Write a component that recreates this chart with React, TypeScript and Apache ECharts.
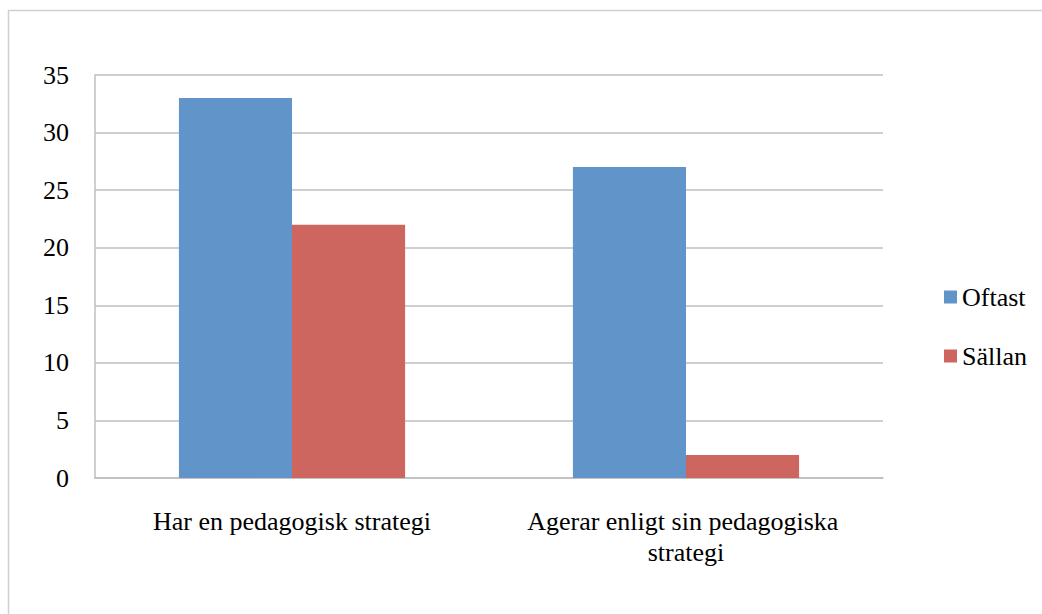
import React, { useEffect, useRef } from "react";
import * as echarts from "echarts";

const categories = ["Har en pedagogisk strategi", "Agerar enligt sin pedagogiska strategi"];
const seriesNames = ["Oftast", "Sällan"];
const oftastValues = [33, 27];
const sallanValues = [22, 2];
const yTicks = [0, 5, 10, 15, 20, 25, 30, 35];

const FONT = "Liberation Serif";

export default function App() {
  const ref = useRef<HTMLDivElement>(null);
  useEffect(() => {
    document.body.style.margin = "0";
    const chart = echarts.init(ref.current!, null, { renderer: "svg" });
    chart.setOption({
      animation: false,
      backgroundColor: "#ffffff",
      textStyle: { fontFamily: FONT, color: "#000" },
      graphic: [
        {
          type: "rect",
          shape: { x: 8.5, y: 10.5, width: 1100, height: 700 },
          style: { fill: "none", stroke: "#d0d0d0", lineWidth: 1.5 },
          silent: true,
        },
      ],
      grid: { left: 95, right: 159, top: 75, bottom: 136, containLabel: false },
      legend: {
        orient: "vertical",
        left: 939,
        top: 279,
        itemWidth: 13,
        itemHeight: 13,
        itemGap: 33,
        icon: "rect",
        textStyle: { fontFamily: FONT, fontSize: 26, color: "#000" },
        data: seriesNames,
      },
      xAxis: {
        type: "category",
        data: categories,
        axisLine: { show: true, lineStyle: { color: "#bfbfbf", width: 1.5 } },
        axisTick: { show: false },
        axisLabel: {
          interval: 0,
          margin: 28,
          fontFamily: FONT,
          fontSize: 26,
          color: "#000",
          width: 340,
          overflow: "break",
          lineHeight: 31,
        },
      },
      yAxis: {
        type: "value",
        min: yTicks[0],
        max: yTicks[yTicks.length - 1],
        interval: 5,
        axisLine: { show: true, lineStyle: { color: "#bfbfbf", width: 1.5 } },
        axisTick: { show: false },
        axisLabel: { margin: 26, fontFamily: FONT, fontSize: 26, color: "#000" },
        splitLine: { show: true, lineStyle: { color: "#bfbfbf", width: 1.5 } },
      },
      series: [
        {
          name: seriesNames[0],
          type: "bar",
          data: oftastValues,
          barGap: "0%",
          barCategoryGap: "42.6%",
          itemStyle: { color: "#6195c9" },
        },
        {
          name: seriesNames[1],
          type: "bar",
          data: sallanValues,
          barGap: "0%",
          barCategoryGap: "42.6%",
          itemStyle: { color: "#cc665f" },
        },
      ],
    });
    return () => chart.dispose();
  }, []);
  return <div ref={ref} style={{ width: 1042, height: 614 }} />;
}
